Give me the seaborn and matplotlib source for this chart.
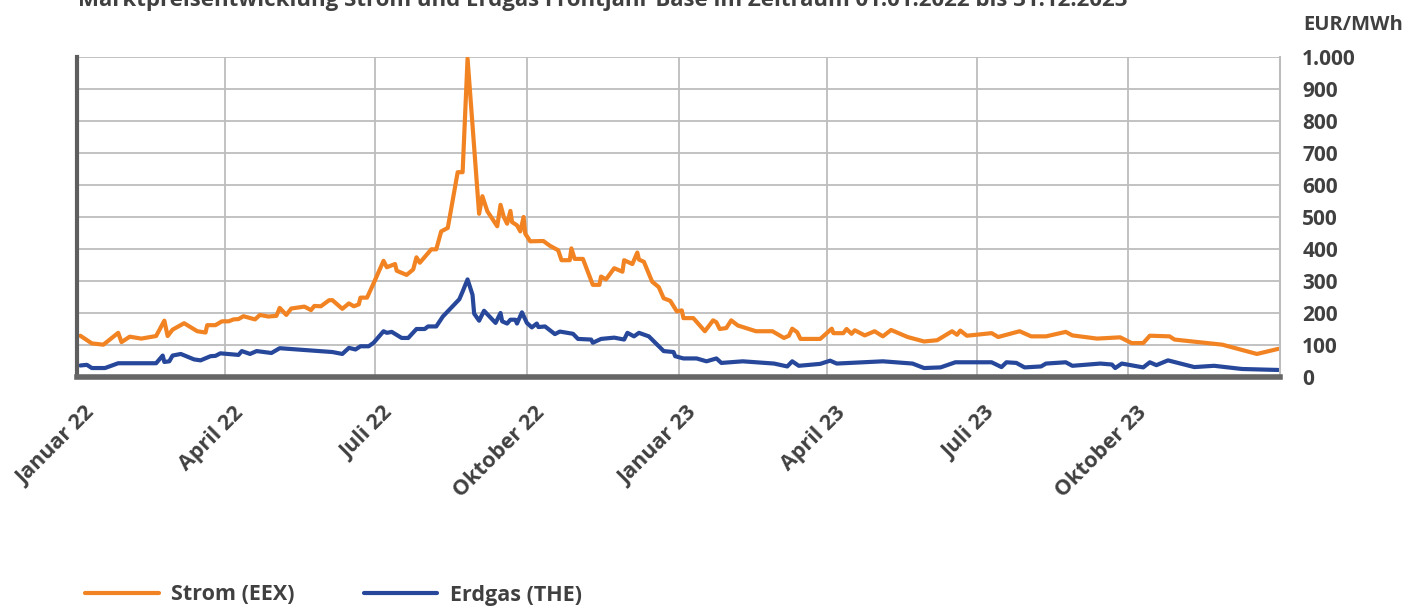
import pandas as pd
import numpy as np
import matplotlib
matplotlib.use("Agg")
import matplotlib.pyplot as plt
import matplotlib.transforms as mtransforms
import seaborn as sns

# Strom (EEX) Frontjahr Base, EUR/MWh
strom_dates = [
    "2022-01-03", "2022-01-10", "2022-01-17", "2022-01-26", "2022-01-28", "2022-02-02",
    "2022-02-09", "2022-02-18", "2022-02-23", "2022-02-25", "2022-02-28", "2022-03-07",
    "2022-03-15", "2022-03-20", "2022-03-21", "2022-03-26", "2022-03-30", "2022-04-03",
    "2022-04-06", "2022-04-09", "2022-04-12", "2022-04-19", "2022-04-22", "2022-04-27",
    "2022-05-02", "2022-05-04", "2022-05-08", "2022-05-11", "2022-05-19", "2022-05-23",
    "2022-05-25", "2022-05-29", "2022-06-03", "2022-06-05", "2022-06-11", "2022-06-15",
    "2022-06-18", "2022-06-21", "2022-06-22", "2022-06-26", "2022-06-30", "2022-07-06",
    "2022-07-08", "2022-07-13", "2022-07-14", "2022-07-20", "2022-07-24", "2022-07-26",
    "2022-07-28", "2022-08-04", "2022-08-07", "2022-08-10", "2022-08-14", "2022-08-20",
    "2022-08-23", "2022-08-26", "2022-09-02", "2022-09-04", "2022-09-07", "2022-09-13",
    "2022-09-15", "2022-09-17", "2022-09-19", "2022-09-21", "2022-09-22", "2022-09-25",
    "2022-09-27", "2022-09-29", "2022-09-30", "2022-10-03", "2022-10-11", "2022-10-15",
    "2022-10-20", "2022-10-22", "2022-10-27", "2022-10-28", "2022-10-30", "2022-11-04",
    "2022-11-10", "2022-11-14", "2022-11-15", "2022-11-18", "2022-11-23", "2022-11-28",
    "2022-11-29", "2022-12-04", "2022-12-07", "2022-12-08", "2022-12-11", "2022-12-16",
    "2022-12-20", "2022-12-23", "2022-12-27", "2022-12-31", "2023-01-03", "2023-01-04",
    "2023-01-10", "2023-01-17", "2023-01-22", "2023-01-24", "2023-01-26", "2023-01-30",
    "2023-02-02", "2023-02-06", "2023-02-17", "2023-02-27", "2023-03-06", "2023-03-09",
    "2023-03-11", "2023-03-14", "2023-03-16", "2023-03-28", "2023-04-04", "2023-04-05",
    "2023-04-11", "2023-04-13", "2023-04-16", "2023-04-18", "2023-04-24", "2023-04-30",
    "2023-05-05", "2023-05-10", "2023-05-20", "2023-05-30", "2023-06-07", "2023-06-16",
    "2023-06-19", "2023-06-21", "2023-06-25", "2023-07-10", "2023-07-14", "2023-07-27",
    "2023-08-03", "2023-08-12", "2023-08-24", "2023-08-28", "2023-09-12", "2023-09-26",
    "2023-10-03", "2023-10-10", "2023-10-14", "2023-10-26", "2023-10-29", "2023-11-27",
    "2023-12-18", "2023-12-31",
]
strom_values = [
    129, 105, 101, 138, 109, 126,
    120, 128, 176, 128, 148, 168,
    143, 139, 162, 162, 174, 174,
    180, 181, 190, 180, 194, 189,
    191, 216, 194, 214, 220, 209,
    222, 221, 240, 240, 213, 230,
    221, 227, 248, 248, 293, 363,
    343, 353, 332, 319, 336, 374,
    357, 399, 399, 455, 466, 640,
    640, 995, 510, 565, 518, 471,
    538, 500, 479, 519, 484, 474,
    455, 500, 448, 424, 425, 410,
    396, 365, 365, 402, 369, 369,
    288, 288, 314, 305, 340, 329,
    365, 353, 389, 367, 360, 298,
    281, 246, 238, 205, 208, 184,
    184, 143, 177, 171, 150, 153,
    177, 161, 143, 143, 122, 129,
    151, 140, 119, 119, 151, 137,
    137, 150, 135, 146, 130, 143,
    127, 147, 125, 111, 115, 143,
    132, 145, 129, 137, 125, 143,
    127, 127, 141, 130, 120, 124,
    106, 106, 129, 127, 117, 101,
    72, 88,
]

# Erdgas (THE) Frontjahr, EUR/MWh
gas_dates = [
    "2022-01-03", "2022-01-07", "2022-01-10", "2022-01-18", "2022-01-26", "2022-02-18",
    "2022-02-22", "2022-02-23", "2022-02-26", "2022-02-28", "2022-03-05", "2022-03-13",
    "2022-03-17", "2022-03-23", "2022-03-26", "2022-03-29", "2022-04-09", "2022-04-11",
    "2022-04-16", "2022-04-20", "2022-04-29", "2022-05-04", "2022-06-05", "2022-06-11",
    "2022-06-15", "2022-06-19", "2022-06-22", "2022-06-27", "2022-06-30", "2022-07-06",
    "2022-07-08", "2022-07-11", "2022-07-17", "2022-07-21", "2022-07-26", "2022-07-31",
    "2022-08-02", "2022-08-07", "2022-08-11", "2022-08-21", "2022-08-23", "2022-08-26",
    "2022-08-29", "2022-08-30", "2022-09-02", "2022-09-05", "2022-09-12", "2022-09-15",
    "2022-09-16", "2022-09-19", "2022-09-21", "2022-09-24", "2022-09-25", "2022-09-28",
    "2022-10-01", "2022-10-04", "2022-10-07", "2022-10-08", "2022-10-12", "2022-10-18",
    "2022-10-21", "2022-10-29", "2022-11-01", "2022-11-09", "2022-11-10", "2022-11-15",
    "2022-11-23", "2022-11-29", "2022-12-01", "2022-12-05", "2022-12-08", "2022-12-14",
    "2022-12-23", "2022-12-29", "2022-12-30", "2023-01-04", "2023-01-12", "2023-01-18",
    "2023-01-24", "2023-01-27", "2023-02-09", "2023-02-28", "2023-03-08", "2023-03-11",
    "2023-03-15", "2023-03-28", "2023-04-03", "2023-04-07", "2023-05-05", "2023-05-23",
    "2023-05-30", "2023-06-09", "2023-06-18", "2023-07-10", "2023-07-16", "2023-07-19",
    "2023-07-25", "2023-07-30", "2023-08-09", "2023-08-12", "2023-08-24", "2023-08-28",
    "2023-09-14", "2023-09-21", "2023-09-23", "2023-09-27", "2023-10-10", "2023-10-14",
    "2023-10-18", "2023-10-25", "2023-11-10", "2023-11-22", "2023-12-09", "2023-12-31",
]
gas_values = [
    36, 38, 28, 28, 43, 43,
    67, 47, 49, 67, 72, 55,
    52, 65, 66, 74, 69, 81,
    72, 81, 75, 90, 78, 72,
    91, 86, 96, 96, 107, 143,
    138, 141, 122, 122, 150, 150,
    158, 158, 189, 243, 267, 305,
    257, 198, 176, 207, 169, 200,
    174, 167, 179, 179, 167, 202,
    169, 155, 167, 156, 158, 134,
    142, 135, 119, 117, 107, 119,
    123, 117, 138, 127, 138, 127,
    81, 78, 65, 58, 58, 49,
    58, 44, 49, 42, 33, 49,
    35, 41, 51, 42, 49, 42,
    28, 30, 46, 46, 31, 46,
    44, 30, 33, 42, 46, 35,
    42, 39, 28, 42, 30, 46,
    37, 52, 31, 35, 25, 22,
]

series_names = ["Strom (EEX)", "Erdgas (THE)"]
series_colors = ["#F28322", "#26479A"]

tick_labels = ["Januar 22", "April 22", "Juli 22", "Oktober 22",
               "Januar 23", "April 23", "Juli 23", "Oktober 23", ""]
y_ticks = [0, 100, 200, 300, 400, 500, 600, 700, 800, 900, 1000]
y_labels = ["0", "100", "200", "300", "400", "500", "600", "700", "800", "900", "1.000"]

df = pd.concat([
    pd.DataFrame({"Datum": pd.to_datetime(strom_dates), "Preis": strom_values, "Serie": series_names[0]}),
    pd.DataFrame({"Datum": pd.to_datetime(gas_dates), "Preis": gas_values, "Serie": series_names[1]}),
])

sns.set_theme(style="white")
plt.rcParams["font.family"] = ["Open Sans", "DejaVu Sans"]
text_color = "#404040"

fig = plt.figure(figsize=(14.04, 6.09), dpi=100)
ax = fig.add_axes([77 / 1404, 1 - 377 / 609, (1280 - 77) / 1404, (377 - 57) / 609])

sns.lineplot(data=df, x="Datum", y="Preis", hue="Serie", palette=series_colors,
             hue_order=series_names, linewidth=3, ax=ax, legend=False)

ax.set_xlim(pd.Timestamp("2022-01-01"), pd.Timestamp("2024-01-01"))
ax.set_ylim(0, 1000)
ax.set_xlabel("")
ax.set_ylabel("")

ax.set_xticks(pd.date_range("2022-01-01", "2024-01-01", freq="QS"))
ax.set_xticklabels(tick_labels, rotation=45, ha="right", va="center",
                   rotation_mode="anchor", fontsize=15.5, fontweight="bold", color=text_color)
ax.tick_params(axis="x", length=0, pad=18)
# push the rotated labels a bit right/down like the original
shift = mtransforms.ScaledTranslation(15 / 100, -8 / 100, fig.dpi_scale_trans)
for lbl in ax.get_xticklabels():
    lbl.set_transform(lbl.get_transform() + shift)

ax.yaxis.tick_right()
ax.set_yticks(y_ticks)
ax.set_yticklabels(y_labels, fontsize=15, fontweight="bold", color=text_color)
ax.tick_params(axis="y", length=0, pad=16)

ax.grid(True, color="#BDBDBD", linewidth=1.3)
ax.set_axisbelow(True)

ax.spines["top"].set_visible(False)
ax.spines["left"].set_color("#5E5E5E")
ax.spines["left"].set_linewidth(3)
ax.spines["bottom"].set_color("#666666")
ax.spines["bottom"].set_linewidth(4)
ax.spines["right"].set_color("#BDBDBD")
ax.spines["right"].set_linewidth(1.5)

fig.text(1303 / 1404, 1 - 25 / 609, "EUR/MWh", ha="left", va="center",
         fontsize=14.5, fontweight="bold", color=text_color)
fig.text(78 / 1404, 1 - 6 / 609,
         "Marktpreisentwicklung Strom und Erdgas Frontjahr Base im Zeitraum 01.01.2022 bis 31.12.2023",
         ha="left", va="baseline", fontsize=16, fontweight="bold", color=text_color)

handles = [plt.Line2D([], [], color=c, linewidth=3) for c in series_colors]
leg = fig.legend(handles, series_names, loc="center left", bbox_to_anchor=(66 / 1404, 1 - 595 / 609),
                 ncol=2, frameon=False, handlelength=3.4, handletextpad=0.6, columnspacing=3.2,
                 prop={"size": 15.5, "weight": "bold"})
for t in leg.get_texts():
    t.set_color(text_color)

fig.savefig("out.png", dpi=100)
